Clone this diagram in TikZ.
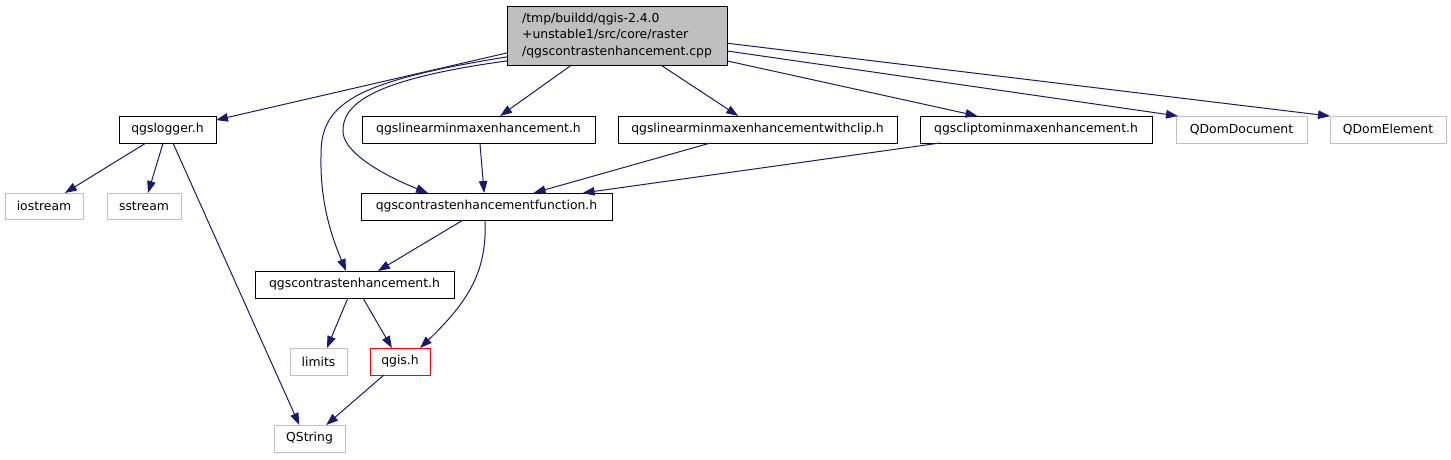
\documentclass[tikz,border=0pt]{standalone}
\usepackage{fontspec}
\setmainfont{DejaVu Sans}
\usetikzlibrary{arrows.meta}
\definecolor{edgeblue}{HTML}{191970}
\definecolor{boxgrey}{HTML}{BFBFBF}

\begin{document}
\begin{tikzpicture}[
	x=1pt, y=-1pt,
	font=\fontsize{12.4pt}{16.7pt}\selectfont,
	file/.style={ rectangle, draw=black, line width=1pt, inner sep=0pt, outer sep=0pt, minimum height=27pt },
	fileg/.style={ file, draw=boxgrey },
	filer/.style={ file, draw=red },
	filem/.style={ file, fill=boxgrey, align=left, inner xsep=12pt, minimum height=59pt },
	incl/.style={ draw=edgeblue, line width=1pt, -{Triangle[length=12pt,width=8.5pt]} }
]

\useasboundingbox (0,0) rectangle (1451,459);

\node at (617,35.5) (main) [filem, minimum width=220pt]
  {/tmp/buildd/qgis-2.4.0\\+unstable1/src/core/raster\\/qgscontrastenhancement.cpp};
\node at (167.5,129.5) (logger) [file, minimum width=97pt] {qgslogger.h};
\node at (478.5,129.5) (linmm) [file, minimum width=233pt] {qgslinearminmaxenhancement.h};
\node at (757.5,129.5) (linmmclip) [file, minimum width=279pt] {qgslinearminmaxenhancementwithclip.h};
\node at (1036,129.5) (clipmm) [file, minimum width=232pt] {qgscliptominmaxenhancement.h};
\node at (1241.5,129.5) (domdoc) [fileg, minimum width=131pt] {QDomDocument};
\node at (1388,129.5) (domel) [fileg, minimum width=116pt] {QDomElement};
\node at (44,206) (iostr) [fileg, minimum width=78pt, minimum height=26pt] {iostream};
\node at (144,206) (sstr) [fileg, minimum width=74pt, minimum height=26pt] {sstream};
\node at (486.5,206.5) (cefunc) [file, minimum width=251pt] {qgscontrastenhancementfunction.h};
\node at (354.5,284.5) (ce) [file, minimum width=199pt] {qgscontrastenhancement.h};
\node at (318.5,361.5) (limits) [fileg, minimum width=57pt] {limits};
\node at (400,361.5) (qgis) [filer, minimum width=60pt] {qgis.h};
\node at (309.5,438.5) (qstr) [fileg, minimum width=71pt] {QString};

% includes of the .cpp
\draw[incl] (main.189) -- (logger.11);
\draw[incl] (main.191) .. controls (350,82) and (320,105) .. (321,157)
  .. controls (320,205) and (333,240) .. (ce.122);
\draw[incl] (main.193) .. controls (375,79) and (341,103) .. (343,133)
  .. controls (346,158) and (400,182) .. (cefunc.167);
\draw[incl] (main.-147) -- (linmm.32);
\draw[incl] (main.-34) -- (linmmclip.145);
\draw[incl] (main.-13) -- (clipmm.167);
\draw[incl] (main.-8) -- (domdoc.168);
\draw[incl] (main.-4) -- (domel.167);

% headers
\draw[incl] (linmm.-84) -- (cefunc.100);
\draw[incl] (linmmclip.-164) -- (cefunc.16);
\draw[incl] (clipmm.-172) -- (cefunc.8);
\draw[incl] (cefunc.-150) -- (ce.30);
\draw[incl] (cefunc.-96) .. controls (487,270) and (470,300) .. (qgis.34);
\draw[incl] (ce.-116) -- (limits.58);
\draw[incl] (ce.-58) -- (qgis.121);
\draw[incl] (qgis.-140) -- (qstr.39);
\draw[incl] (logger.-68) -- (qstr.127);
\draw[incl] (logger.-148) -- (iostr.32);
\draw[incl] (logger.-108) -- (sstr.73);

\end{tikzpicture}
\end{document}
